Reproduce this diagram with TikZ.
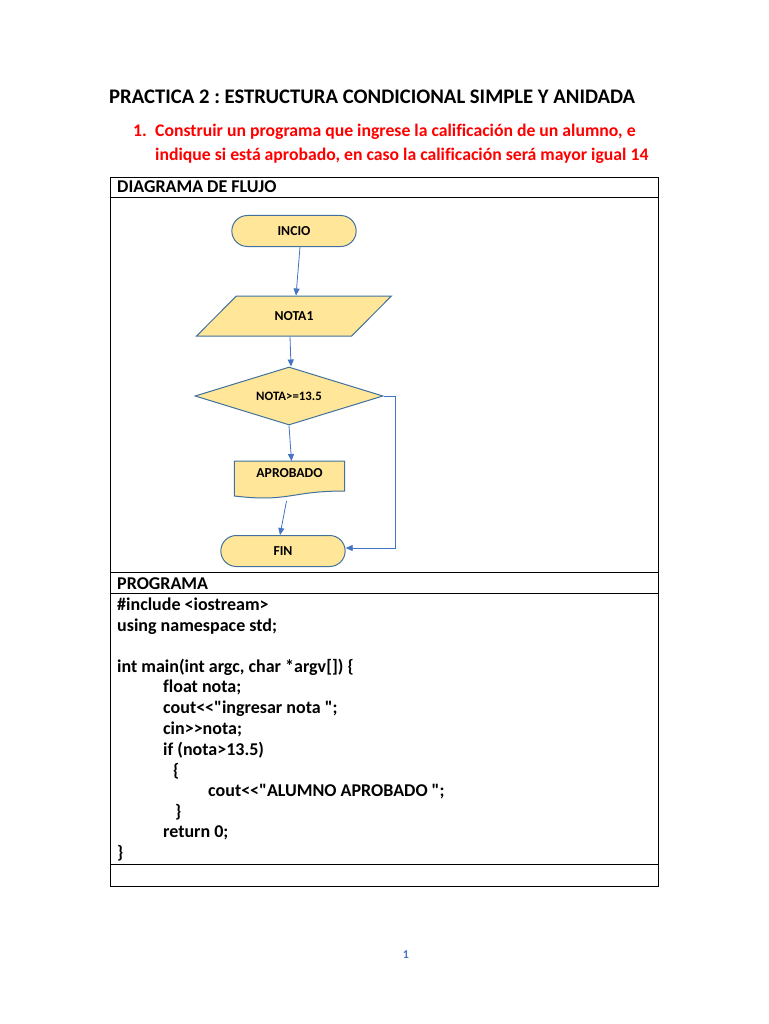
\documentclass[tikz,border=0pt]{standalone}
\usepackage{fontspec}
\setmainfont{Carlito}[Ligatures={TeX,CommonOff}]
\newfontfamily\codefont{Carlito}[Ligatures=CommonOff]
\usetikzlibrary{shapes.geometric, shapes.misc, arrows.meta, backgrounds}

\definecolor{shapefill}{HTML}{FFE699}
\definecolor{shapeline}{HTML}{41719C}
\definecolor{flowblue}{HTML}{4472C4}
\definecolor{taskred}{HTML}{FF0000}

\begin{document}
\frenchspacing
\begin{tikzpicture}[x=1pt, y=-1pt, >={Triangle[length=7pt, width=6pt]},
  every node/.style={font=\bfseries},
  shapetext/.style={font=\bfseries\fontsize{13.7}{16}\selectfont},
  terminal/.style={rounded rectangle, draw=shapeline, fill=shapefill, line width=1pt,
    minimum width=131pt, minimum height=31pt, shapetext},
  flow/.style={->, draw=flowblue, line width=0.8pt},
  codeline/.style={anchor=base west, inner sep=0pt,
    font={\codefont\bfseries\fontsize{18}{21}\selectfont}}]
  \useasboundingbox (0,0) rectangle (768,1024);

  % encabezado
  \node[anchor=base west, inner sep=0pt, font=\bfseries\fontsize{20.7}{25}\selectfont]
    (titulo) at (109,104) {PRACTICA 2 : ESTRUCTURA CONDICIONAL SIMPLE Y ANIDADA};
  \node[anchor=base west, inner sep=0pt, text=taskred, font=\bfseries\fontsize{17.7}{21}\selectfont]
    (num) at (133,137) {1.};
  \node[anchor=base west, inner sep=0pt, text=taskred, font=\bfseries\fontsize{17.7}{21}\selectfont]
    (enun1) at (155,137) {Construir un programa que ingrese la calificación de un alumno, e};
  \node[anchor=base west, inner sep=0pt, text=taskred, font=\bfseries\fontsize{17.7}{21}\selectfont]
    (enun2) at (155,161) {indique si está aprobado, en caso la calificación será mayor igual 14};

  % tabla
  \draw[line width=0.8pt] (110,177) rectangle (658,886);
  \draw[line width=0.8pt] (110,197) -- (658,197);
  \draw[line width=0.8pt] (110,572) -- (658,572);
  \draw[line width=0.8pt] (110,593) -- (658,593);
  \draw[line width=0.8pt] (110,864) -- (658,864);
  \node[codeline] (cab1) at (117,193) {DIAGRAMA DE FLUJO};
  \node[codeline] (cab2) at (117,589) {PROGRAMA};

  % diagrama de flujo
  \node[terminal] (inicio) at (294,231) {INCIO};
  \node[trapezium, trapezium left angle=45, trapezium right angle=135,
    trapezium stretches=true, draw=shapeline, fill=shapefill, line width=1pt,
    minimum width=196pt, minimum height=40pt, shapetext] (nota) at (294,316) {NOTA1};
  \node[diamond, aspect=3.2, draw=shapeline, fill=shapefill, line width=1pt, inner sep=0pt,
    minimum width=188pt, minimum height=58pt,
    font=\bfseries\fontsize{12.8}{15}\selectfont] (cond) at (289,396) {NOTA>=13.5};
  \node[minimum width=110pt, anchor=north, inner ysep=7pt, shapetext] (aprob) at (289.5,461) {APROBADO};
  \begin{scope}[on background layer]
    \fill[white] (0,0) rectangle (768,1024);
    \filldraw[draw=shapeline, fill=shapefill, line width=1pt]
      (aprob.north west) -- (aprob.north east) -- ++(0,30)
      .. controls +(-55,0) and +(55,6.5) .. ([yshift=-35pt]aprob.north west) -- cycle;
  \end{scope}
  \node[terminal] (fin) at (283,551) {FIN};

  % conectores
  \draw[flow] ([xshift=6pt]inicio.south) -- ([xshift=2pt]nota.north);
  \draw[flow] ([xshift=-4pt]nota.south) -- ([xshift=2pt]cond.north);
  \draw[flow] (cond.south) -- ([xshift=2pt]aprob.north);
  \draw[flow] ([xshift=-3pt, yshift=-40pt]aprob.north) -- ([xshift=-3pt]fin.north);
  \coordinate (giro) at (395,548);
  \draw[flow] (cond.east) -| (giro) -- (giro -| fin.east);

  % programa
  \node[codeline] (l1) at (117,610) {\#include <iostream>};
  \node[codeline] (l2) at (117,631) {using namespace std;};
  \node[codeline] (l3) at (117,672) {int main(int argc, char *argv[]) \{};
  \node[codeline] (l4) at (163,692) {float nota;};
  \node[codeline] (l5) at (163,713) {cout<<"ingresar nota ";};
  \node[codeline] (l6) at (163,734) {cin>>nota;};
  \node[codeline] (l7) at (163,755) {if (nota>13.5)};
  \node[codeline] (l8) at (173,776) {\{};
  \node[codeline] (l9) at (208,796) {cout<<"ALUMNO APROBADO ";};
  \node[codeline] (l10) at (175,817) {\}};
  \node[codeline] (l11) at (163,837) {return 0;};
  \node[codeline] (l12) at (117,858) {\}};

  % pie
  \node[text=flowblue, font=\bfseries\fontsize{12}{14}\selectfont] (pagina) at (406,955) {1};
\end{tikzpicture}
\end{document}
